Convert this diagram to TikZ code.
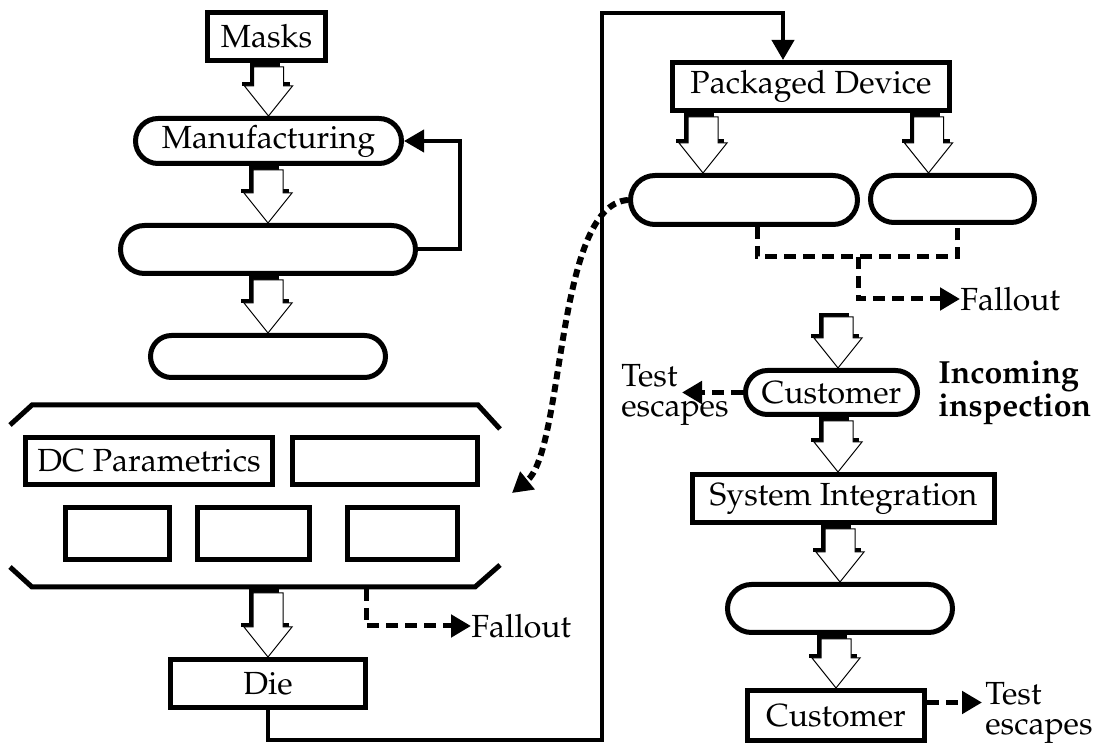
\documentclass[tikz,border=0pt]{standalone}
\usepackage[T1]{fontenc}
\usepackage{mathpazo}
\usetikzlibrary{arrows.meta,calc,shapes.misc}
\newcommand{\tip}{-{Triangle[length=10pt,width=11pt]}}
\newcommand{\blk}[2]{%
\path (#2) coordinate (bt) (bt |- #1) coordinate (bs);
\fill ($(bs)+(-19,0)$) rectangle ($(bt)+(11,-30)$);
\fill ($(bt)+(-27,-34)$) rectangle ($(bt)+(21,-30)$);
\filldraw[fill=white,line width=.5pt] ($(bs)+(-15,4)$) -- ($(bt)+(-15,-30)$) -- ($(bt)+(-24,-30)$) -- (bt) -- ($(bt)+(24,-30)$) -- ($(bt)+(15,-30)$) -- ($(bs)+(15,4)$) -- cycle;}

\begin{document}
\begin{tikzpicture}[x=.5pt,y=-.5pt,font=\fontsize{16}{15}\selectfont,
  box/.style={draw,line width=2.5pt,inner sep=0pt},
  pill/.style={rounded rectangle,draw,line width=2.5pt,inner sep=0pt},
  conn/.style={line width=2pt},
  dsh/.style={line width=2.5pt,dash pattern=on 6pt off 3.5pt},
  dots/.style={line width=3pt,dash pattern=on 4pt off 2.5pt},
  lbl/.style={anchor=west,align=left,inner sep=0pt}]
\useasboundingbox (0,0) rectangle (1099,747);
%wafer side
\node[box,minimum width=59pt,minimum height=24pt] (mask) at (266.5,36.5) {Masks};
\node[pill,minimum width=133pt,minimum height=22.5pt] (manu) at (268.5,141) {Manufacturing};
\node[pill,minimum width=147.5pt,minimum height=24pt] (pilla) at (268,249.5) {};
\node[pill,minimum width=117.5pt,minimum height=21pt] (pillb) at (268,356.5) {};
\blk{mask.south}{manu.north}
\blk{manu.south}{pilla.north}
\blk{pilla.south}{pillb.north}
\draw[conn,\tip] (pilla.east) -- ++(42,0) |- (manu.east);
%wafer test
\draw[line width=2.5pt] (10,425) -- (32,405) -- (478,405) -- (500,429);
\draw[line width=2.5pt] (10,567) -- (32,587) -- (475,587) -- (500,565);
\coordinate (brb) at (268,589);
\coordinate (fo1) at (366,589);
\node[box,minimum width=123.5pt,minimum height=23.5pt] (dc) at (149,461) {DC Parametrics};
\node[box,minimum width=92.5pt,minimum height=23.5pt] (dcb) at (385,461) {};
\node[box,minimum width=52pt,minimum height=26pt] (ta) at (117.5,533.5) {};
\node[box,minimum width=56pt,minimum height=26pt] (tb) at (253.5,533.5) {};
\node[box,minimum width=55pt,minimum height=26pt] (tc) at (402.5,533.5) {};
\node[lbl] (fol) at (471,626) {Fallout};
\draw[dsh,\tip] (fo1) |- (fol.west);
\node[box,minimum width=97.5pt,minimum height=24pt] (die) at (268,683.5) {Die};
\blk{brb}{die.north}
%package side
\node[box,minimum width=138.5pt,minimum height=24pt] (pd) at (811,86.5) {Packaged Device};
\draw[conn,\tip] (die.south) -- ++(0,30) -| (602,13) -| ($(pd.north)+(-28,0)$);
\node[pill,minimum width=113.5pt,minimum height=24.5pt] (pilll) at (744,200) {};
\node[pill,minimum width=82pt,minimum height=23.5pt] (pillr) at (952.5,199) {};
\blk{pd.south}{$(pilll.north)+(-41,0)$}
\blk{pd.south}{$(pillr.north)+(-24,0)$}
\coordinate (fo2) at (858,257);
\node[lbl] (for) at (960,299) {Fallout};
\draw[dsh] ($(pilll.south)+(13,0)$) |- (fo2) -| ($(pillr.south)+(5,0)$);
\draw[dsh,\tip] (fo2) |- (for.west);
\coordinate (dcin) at (512,493);
\draw[dots,\tip] (pilll.west) .. controls (555,205) and (565,450) .. (dcin);
%customer side
\coordinate (cin) at (838,313);
\node[pill,minimum width=86pt,minimum height=22pt] (cust) at (831.5,392.5) {Customer};
\node[lbl,font=\fontsize{16}{15}\selectfont\bfseries] (inc) at (938,393) {Incoming\\inspection};
\node[lbl] (te1) at (621,395) {Test\\escapes};
\draw[dsh,\tip] (cust.west) -- ++(-61,0);
\blk{cin}{$(cust.north)+(6.5,0)$}
\node[box,minimum width=151pt,minimum height=24pt] (si) at (843.5,498.5) {System Integration};
\blk{cust.south}{$(si.north)+(-5.5,0)$}
\node[pill,minimum width=112.5pt,minimum height=24pt] (pillc) at (840,608.5) {};
\blk{si.south}{pillc.north}
\node[box,minimum width=88.5pt,minimum height=25pt] (cust2) at (836,715.5) {Customer};
\blk{pillc.south}{cust2.north}
\node[lbl] (te2) at (985,713) {Test\\escapes};
\draw[dsh,\tip] ([yshift=6.5pt]cust2.east) -- ++(55,0);
\end{tikzpicture}
\end{document}
